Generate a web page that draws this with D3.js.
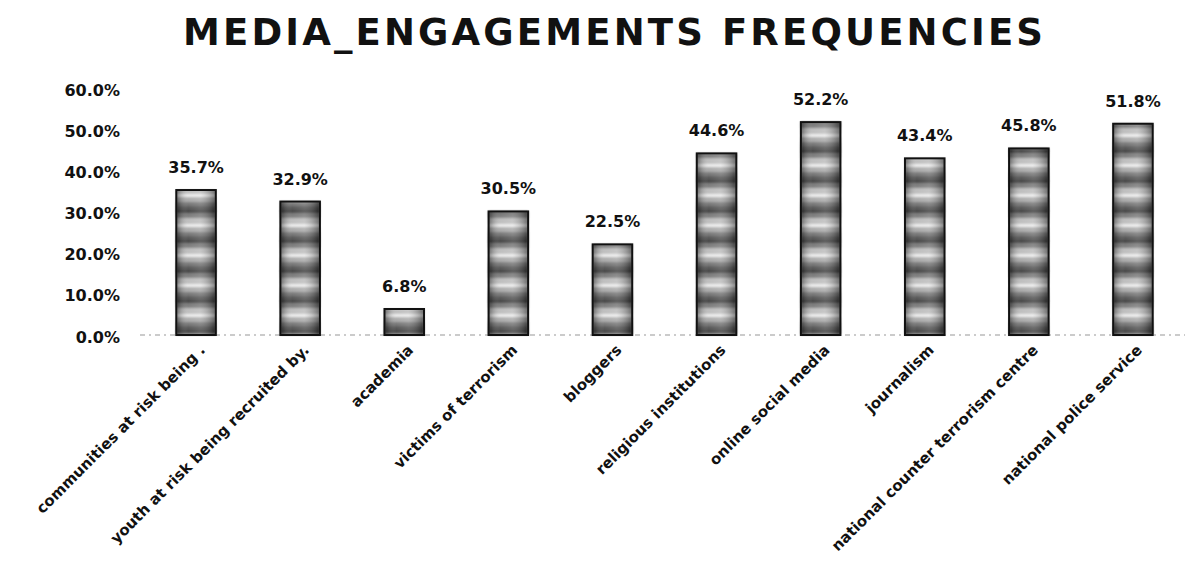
<!DOCTYPE html>
<html>
<head>
<meta charset="utf-8">
<script src="https://cdn.jsdelivr.net/npm/d3@7"></script>
<style>
  body { margin: 0; background: #fff; }
  text { font-family: "DejaVu Sans", "Open Sans", sans-serif; font-weight: 700; fill: #111; }
</style>
</head>
<body>
<div class="chart"></div>
<script>
// chart data
var categories = [
  "communities at risk being .",
  "youth at risk being recruited by.",
  "academia",
  "victims of terrorism",
  "bloggers",
  "religious institutions",
  "online social media",
  "journalism",
  "national counter terrorism centre",
  "national police service"
];
var values = [0.357, 0.329, 0.068, 0.305, 0.225, 0.446, 0.522, 0.434, 0.458, 0.518];
var yTicks = [0, 0.1, 0.2, 0.3, 0.4, 0.5, 0.6];
var chartTitle = "MEDIA_ENGAGEMENTS FREQUENCIES";

var svgWidth = 1190;
var svgHeight = 562;

var svg = d3.select(".chart")
  .append("svg")
  .attr("width", svgWidth)
  .attr("height", svgHeight);

// bar texture: banded grey like the scanned picture
var defs = svg.append("defs");
var pat = defs.append("pattern")
  .attr("id", "bands")
  .attr("patternUnits", "userSpaceOnUse")
  .attr("width", 40)
  .attr("height", 30);
var bands = [
  ["#2e2e2e", 0, 3], ["#6f6f6f", 3, 5], ["#b8b8b8", 8, 6], ["#ececec", 14, 3],
  ["#a4a4a4", 17, 5], ["#6a6a6a", 22, 4], ["#474747", 26, 4]
];
bands.forEach(function(b) {
  pat.append("rect").attr("x", 0).attr("y", b[1]).attr("width", 40).attr("height", b[2]).attr("fill", b[0]);
});

var shade = defs.append("linearGradient").attr("id", "shade").attr("x1", 0).attr("x2", 1).attr("y1", 0).attr("y2", 0);
shade.append("stop").attr("offset", "0%").attr("stop-color", "#000").attr("stop-opacity", 0.45);
shade.append("stop").attr("offset", "30%").attr("stop-color", "#fff").attr("stop-opacity", 0.1);
shade.append("stop").attr("offset", "60%").attr("stop-color", "#fff").attr("stop-opacity", 0.2);
shade.append("stop").attr("offset", "100%").attr("stop-color", "#000").attr("stop-opacity", 0.45);

defs.append("filter").attr("id", "soft")
  .append("feGaussianBlur").attr("stdDeviation", 1.1);

// scales
var x = d3.scaleBand()
  .domain(categories)
  .range([144, 1185])
  .paddingInner(0.62)
  .paddingOuter(0.31);

var y = d3.scaleLinear()
  .domain([0, 0.6])
  .range([337, 90]);

// title
svg.append("text")
  .attr("x", 613)
  .attr("y", 45)
  .attr("text-anchor", "middle")
  .attr("textLength", 860)
  .attr("lengthAdjust", "spacing")
  .style("font-size", "37px")
  .style("fill", "#111")
  .text(chartTitle);

// y axis labels (no axis line)
var yAxis = d3.axisLeft(y)
  .tickValues(yTicks)
  .tickFormat(d3.format(".1%"))
  .tickSize(0)
  .tickPadding(0);

var yG = svg.append("g")
  .attr("transform", "translate(120,0)")
  .call(yAxis);
yG.select(".domain").remove();
yG.selectAll("text")
  .style("font-size", "16px")
  .style("font-family", "'DejaVu Sans', sans-serif")
  .style("font-weight", 700)
  .attr("fill", "#111");

// baseline
svg.append("line")
  .attr("x1", 140)
  .attr("x2", x.range()[1])
  .attr("y1", y(0) - 2)
  .attr("y2", y(0) - 2)
  .attr("stroke", "#bbb")
  .attr("stroke-width", 1.5)
  .attr("stroke-dasharray", "5,4,2,4");

// bars
var barG = svg.selectAll(".bar")
  .data(values)
  .enter()
  .append("g")
  .attr("class", "bar");

barG.append("rect")
  .attr("x", (d, i) => x(categories[i]))
  .attr("y", d => y(d))
  .attr("width", x.bandwidth())
  .attr("height", d => y(0) - 2 - y(d))
  .attr("fill", "url(#bands)")
  .attr("filter", "url(#soft)");

barG.append("rect")
  .attr("x", (d, i) => x(categories[i]))
  .attr("y", d => y(d))
  .attr("width", x.bandwidth())
  .attr("height", d => y(0) - 2 - y(d))
  .attr("fill", "url(#shade)")
  .attr("stroke", "#111")
  .attr("stroke-width", 2);

// value labels
svg.selectAll(".val")
  .data(values)
  .enter()
  .append("text")
  .attr("class", "val")
  .attr("x", (d, i) => x(categories[i]) + x.bandwidth() / 2)
  .attr("y", d => y(d) - 17)
  .attr("text-anchor", "middle")
  .style("font-size", "16px")
  .text(d => d3.format(".1%")(d));

// category labels, rotated
svg.selectAll(".cat")
  .data(categories)
  .enter()
  .append("text")
  .attr("class", "cat")
  .attr("text-anchor", "end")
  .attr("transform", d => `translate(${x(d) + x.bandwidth() / 2 + 10}, ${y(0) + 14}) rotate(-45)`)
  .style("font-size", "15px")
  .text(d => d);
</script>
</body>
</html>
